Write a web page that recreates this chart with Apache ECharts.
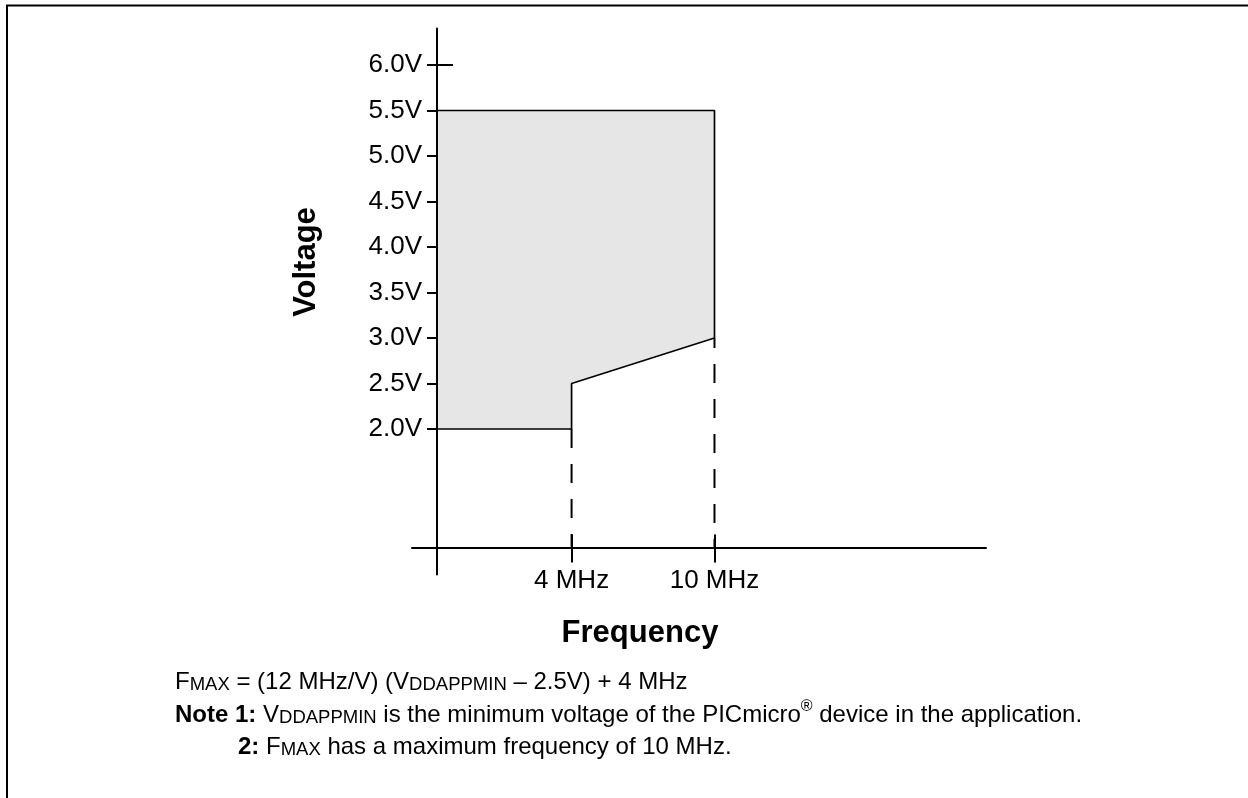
<!DOCTYPE html>
<html>
<head>
<meta charset="utf-8">
<script src="https://cdn.jsdelivr.net/npm/echarts@6.0.0/dist/echarts.min.js"></script>
<style>
  html, body { margin: 0; padding: 0; background: #ffffff; }
  #chart { width: 1248px; height: 798px; }
</style>
</head>
<body>
<div id="chart"></div>
<script>
// Voltage tick labels (V) and frequency tick labels (MHz)
const voltageTicks = [2.0, 2.5, 3.0, 3.5, 4.0, 4.5, 5.0, 5.5, 6.0];
const freqTicks = [4, 10];
const topTick = [6.0];

// Where the two axes cross (frequency axis start, voltage at the frequency axis)
const F_CROSS = -1.65;
const V_CROSS = 0.7;

// Operating region outline: frequency (MHz) and voltage (V) of each corner
const regionFreq = [F_CROSS, 10, 10, 4, 4, F_CROSS];
const regionVolt = [5.5, 5.5, 3.0, 2.5, 2.0, 2.0];

// Dashed drop lines from the region corners down to the frequency axis
const dropFreq = [4, 10];
const dropVolt = [2.0, 3.0];

const FONT = '"Liberation Sans", Arial, Helvetica, sans-serif';
const NOTE = 24;   // note text size
const SC = 18.5;   // small-caps subscript size

const chart = echarts.init(document.getElementById('chart'), null, { renderer: 'canvas' });

const baseAxis = {
  type: 'value',
  splitLine: { show: false },
  z: 5
};

const richNote = {
  b: { fontSize: NOTE, fontWeight: 'bold', fontFamily: FONT, lineHeight: 28, verticalAlign: 'bottom' },
  n: { fontSize: NOTE, fontFamily: FONT, lineHeight: 28, verticalAlign: 'bottom' },
  sc: { fontSize: SC, fontFamily: FONT, lineHeight: 28, verticalAlign: 'bottom' },
  sup: { fontSize: 16, fontFamily: FONT, lineHeight: 28, verticalAlign: 'top' }
};

const option = {
  backgroundColor: '#ffffff',
  animation: false,
  grid: { left: 412, right: 262, top: 28.6, bottom: 223.4, outerBoundsMode: 'none' },
  xAxis: [
    Object.assign({}, baseAxis, {
      min: -2.7, max: 21.4, position: 'bottom', offset: -27,
      axisLine: { onZero: false, lineStyle: { color: '#000', width: 2 } },
      axisTick: { customValues: freqTicks, length: 15, lineStyle: { color: '#000', width: 2 } },
      axisLabel: {
        customValues: freqTicks, margin: 20, color: '#000', fontSize: 26, fontFamily: FONT,
        formatter: v => v + ' MHz'
      }
    }),
    Object.assign({}, baseAxis, {
      min: -2.7, max: 21.4, position: 'bottom', offset: -27,
      axisLine: { show: false, onZero: false },
      axisTick: { customValues: freqTicks, inside: true, length: 13, lineStyle: { color: '#000', width: 2 } },
      axisLabel: { show: false }
    })
  ],
  yAxis: [
    Object.assign({}, baseAxis, {
      min: 0.4, max: 6.4, position: 'left', offset: -25,
      axisLine: { onZero: false, lineStyle: { color: '#000', width: 2 } },
      axisTick: { customValues: voltageTicks, length: 10, lineStyle: { color: '#000', width: 2 } },
      axisLabel: {
        customValues: voltageTicks, margin: 15, color: '#000', fontSize: 26, fontFamily: FONT,
        formatter: v => v.toFixed(1) + 'V'
      }
    }),
    Object.assign({}, baseAxis, {
      min: 0.4, max: 6.4, position: 'left', offset: -25,
      axisLine: { show: false, onZero: false },
      axisTick: { customValues: topTick, inside: true, length: 16, lineStyle: { color: '#000', width: 2 } },
      axisLabel: { show: false }
    })
  ],
  series: [
    {
      // shaded operating region
      type: 'custom',
      silent: true,
      z: 1,
      data: regionFreq.map((f, i) => [f, regionVolt[i]]),
      renderItem: (params, api) => {
        if (params.dataIndex !== 0) return { type: 'group', children: [] };
        const pts = regionFreq.map((f, i) => api.coord([f, regionVolt[i]]));
        return { type: 'polygon', shape: { points: pts }, style: { fill: '#e6e6e6', stroke: null } };
      }
    },
    {
      // region border
      type: 'line',
      silent: true,
      z: 3,
      symbol: 'none',
      data: regionFreq.map((f, i) => [f, regionVolt[i]]),
      lineStyle: { color: '#000', width: 1.7 }
    },
    {
      type: 'line', silent: true, z: 3, symbol: 'none',
      data: [[dropFreq[0], dropVolt[0]], [dropFreq[0], V_CROSS]],
      lineStyle: { color: '#000', width: 2, type: [19, 16], dashOffset: 0 }
    },
    {
      type: 'line', silent: true, z: 3, symbol: 'none',
      data: [[dropFreq[1], dropVolt[1]], [dropFreq[1], V_CROSS]],
      lineStyle: { color: '#000', width: 2, type: [19, 16], dashOffset: 9 }
    }
  ],
  graphic: [
    // figure frame
    { type: 'line', shape: { x1: 6, y1: 5.5, x2: 1248, y2: 5.5 }, style: { stroke: '#000', lineWidth: 2 } },
    { type: 'line', shape: { x1: 7, y1: 5, x2: 7, y2: 798 }, style: { stroke: '#000', lineWidth: 2 } },
    {
      type: 'text', x: 306, y: 262, rotation: Math.PI / 2,
      style: {
        text: 'Voltage', fill: '#000', font: 'bold 31px ' + FONT,
        align: 'center', verticalAlign: 'middle'
      }
    },
    {
      type: 'text', x: 640, y: 633,
      style: {
        text: 'Frequency', fill: '#000', font: 'bold 31px ' + FONT,
        align: 'center', verticalAlign: 'middle'
      }
    },
    {
      type: 'text', x: 175, y: 680,
      style: {
        text: '{n|F}{sc|MAX}{n| = (12 MHz/V) (V}{sc|DDAPPMIN}{n| – 2.5V) + 4 MHz}',
        fill: '#000', font: NOTE + 'px ' + FONT, verticalAlign: 'middle', rich: richNote
      }
    },
    {
      type: 'text', x: 175, y: 713,
      style: {
        text: '{b|Note 1:}{n| V}{sc|DDAPPMIN}{n| is the minimum voltage of the PICmicro}{sup|®}{n| device in the application.}',
        fill: '#000', font: NOTE + 'px ' + FONT, verticalAlign: 'middle', rich: richNote
      }
    },
    {
      type: 'text', x: 238, y: 745,
      style: {
        text: '{b|2:}{n| F}{sc|MAX}{n| has a maximum frequency of 10 MHz.}',
        fill: '#000', font: NOTE + 'px ' + FONT, verticalAlign: 'middle', rich: richNote
      }
    }
  ]
};

chart.setOption(option);
</script>
</body>
</html>
